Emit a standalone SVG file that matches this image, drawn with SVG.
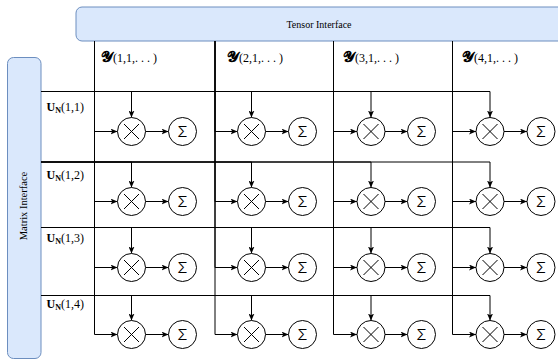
<svg xmlns="http://www.w3.org/2000/svg" width="558" height="362" viewBox="0 0 558 362">
<defs>
<style>
.iface{fill:#dae8fc;stroke:#6c8ebf;stroke-width:1}
.lbl{font-family:"Liberation Serif","Times New Roman",serif;fill:#000}
.conn{fill:none;stroke:#000;stroke-width:1;marker-end:url(#arr)}
.op{fill:#fff;stroke:#000;stroke-width:1}
.x{stroke:#000;stroke-width:1}
.sig{font-family:Inter,"Liberation Sans",Arial,sans-serif;font-weight:300;font-size:15px;text-anchor:middle;fill:#000}
.scr{font-family:"DejaVu Serif","DejaVu Sans","Noto Sans",serif;font-weight:bold;font-size:15px}
</style>
<marker id="arr" viewBox="0 0 7 6" refX="7" refY="3" markerWidth="7" markerHeight="6" markerUnits="userSpaceOnUse" orient="auto">
<path d="M0,0 L7,3 L0,6 L1.75,3 Z" fill="#000"/>
</marker>
<g id="mul-shape">
<circle class="op" cx="0" cy="0" r="14"/>
<line class="x" x1="-7.5" y1="-7.5" x2="7.5" y2="7.5"/>
<line class="x" x1="-7.5" y1="7.5" x2="7.5" y2="-7.5"/>
</g>
<g id="sum-shape">
<circle class="op" cx="0" cy="0" r="14"/>
<text class="sig" x="0" y="5.5">Σ</text>
</g>
</defs>
<rect width="558" height="362" fill="#fff"/>

<g id="tensor-interface">
<rect class="iface" x="76" y="7" width="490" height="34" rx="6"/>
<text class="lbl" x="319" y="28" font-size="10" text-anchor="middle">Tensor Interface</text>
</g>
<g id="matrix-interface">
<rect class="iface" x="7.5" y="57.5" width="33.5" height="301" rx="6"/>
<text class="lbl" transform="translate(27,206) rotate(-90)" font-size="10.5" text-anchor="middle">Matrix Interface</text>
</g>

<g id="col-labels" class="lbl">
<text x="101" y="62"><tspan class="scr">𝓨</tspan><tspan font-size="12">(1,1,. . . )</tspan></text>
<text x="227" y="62"><tspan class="scr">𝓨</tspan><tspan font-size="12">(2,1,. . . )</tspan></text>
<text x="343" y="62"><tspan class="scr">𝓨</tspan><tspan font-size="12">(3,1,. . . )</tspan></text>
<text x="462" y="62"><tspan class="scr">𝓨</tspan><tspan font-size="12">(4,1,. . . )</tspan></text>
</g>
<g id="row-labels" class="lbl" font-size="12">
<text x="46.5" y="110.5"><tspan font-weight="bold">U</tspan><tspan font-weight="bold" font-size="8" dy="2">N</tspan><tspan dy="-2">(1,1)</tspan></text>
<text x="46.5" y="179"><tspan font-weight="bold">U</tspan><tspan font-weight="bold" font-size="8" dy="2">N</tspan><tspan dy="-2">(1,2)</tspan></text>
<text x="46.5" y="241.5"><tspan font-weight="bold">U</tspan><tspan font-weight="bold" font-size="8" dy="2">N</tspan><tspan dy="-2">(1,3)</tspan></text>
<text x="46.5" y="307.5"><tspan font-weight="bold">U</tspan><tspan font-weight="bold" font-size="8" dy="2">N</tspan><tspan dy="-2">(1,4)</tspan></text>
</g>

<g id="connectors">
<path class="conn" d="M94.5,41 V131.5 H117.5"/>
<path class="conn" d="M94.5,41 V201.5 H117.5"/>
<path class="conn" d="M94.5,41 V267.5 H117.5"/>
<path class="conn" d="M94.5,41 V334.5 H117.5"/>
<path class="conn" d="M215,41 V131.5 H237.5"/>
<path class="conn" d="M215,41 V201.5 H237.5"/>
<path class="conn" d="M215,41 V267.5 H237.5"/>
<path class="conn" d="M215,41 V334.5 H237.5"/>
<path class="conn" d="M333.5,41 V131.5 H357"/>
<path class="conn" d="M333.5,41 V201.5 H357"/>
<path class="conn" d="M333.5,41 V267.5 H357"/>
<path class="conn" d="M333.5,41 V334.5 H357"/>
<path class="conn" d="M452.5,41 V131.5 H476"/>
<path class="conn" d="M452.5,41 V201.5 H476"/>
<path class="conn" d="M452.5,41 V267.5 H476"/>
<path class="conn" d="M452.5,41 V334.5 H476"/>
<path class="conn" d="M41,91.5 H131.5 V117.5"/>
<path class="conn" d="M41,91.5 H251.5 V117.5"/>
<path class="conn" d="M41,91.5 H371 V117.5"/>
<path class="conn" d="M41,91.5 H490 V117.5"/>
<path class="conn" d="M41,162 H131.5 V187.5"/>
<path class="conn" d="M41,162 H251.5 V187.5"/>
<path class="conn" d="M41,162 H371 V187.5"/>
<path class="conn" d="M41,162 H490 V187.5"/>
<path class="conn" d="M41,227.5 H131.5 V253.5"/>
<path class="conn" d="M41,227.5 H251.5 V253.5"/>
<path class="conn" d="M41,227.5 H371 V253.5"/>
<path class="conn" d="M41,227.5 H490 V253.5"/>
<path class="conn" d="M41,295.5 H131.5 V320.5"/>
<path class="conn" d="M41,295.5 H251.5 V320.5"/>
<path class="conn" d="M41,295.5 H371 V320.5"/>
<path class="conn" d="M41,295.5 H490 V320.5"/>
<path class="conn" d="M145.5,131.5 H168.5"/>
<path class="conn" d="M265.5,131.5 H288.5"/>
<path class="conn" d="M385,131.5 H407.5"/>
<path class="conn" d="M504,131.5 H527"/>
<path class="conn" d="M145.5,201.5 H168.5"/>
<path class="conn" d="M265.5,201.5 H288.5"/>
<path class="conn" d="M385,201.5 H407.5"/>
<path class="conn" d="M504,201.5 H527"/>
<path class="conn" d="M145.5,267.5 H168.5"/>
<path class="conn" d="M265.5,267.5 H288.5"/>
<path class="conn" d="M385,267.5 H407.5"/>
<path class="conn" d="M504,267.5 H527"/>
<path class="conn" d="M145.5,334.5 H168.5"/>
<path class="conn" d="M265.5,334.5 H288.5"/>
<path class="conn" d="M385,334.5 H407.5"/>
<path class="conn" d="M504,334.5 H527"/>
</g>

<g id="mul-1-1"><use href="#mul-shape" x="131.5" y="131.5"/></g>
<g id="mul-1-2"><use href="#mul-shape" x="251.5" y="131.5"/></g>
<g id="mul-1-3"><use href="#mul-shape" x="371" y="131.5"/></g>
<g id="mul-1-4"><use href="#mul-shape" x="490" y="131.5"/></g>
<g id="mul-2-1"><use href="#mul-shape" x="131.5" y="201.5"/></g>
<g id="mul-2-2"><use href="#mul-shape" x="251.5" y="201.5"/></g>
<g id="mul-2-3"><use href="#mul-shape" x="371" y="201.5"/></g>
<g id="mul-2-4"><use href="#mul-shape" x="490" y="201.5"/></g>
<g id="mul-3-1"><use href="#mul-shape" x="131.5" y="267.5"/></g>
<g id="mul-3-2"><use href="#mul-shape" x="251.5" y="267.5"/></g>
<g id="mul-3-3"><use href="#mul-shape" x="371" y="267.5"/></g>
<g id="mul-3-4"><use href="#mul-shape" x="490" y="267.5"/></g>
<g id="mul-4-1"><use href="#mul-shape" x="131.5" y="334.5"/></g>
<g id="mul-4-2"><use href="#mul-shape" x="251.5" y="334.5"/></g>
<g id="mul-4-3"><use href="#mul-shape" x="371" y="334.5"/></g>
<g id="mul-4-4"><use href="#mul-shape" x="490" y="334.5"/></g>

<g id="sum-1-1"><use href="#sum-shape" x="182.5" y="131.5"/></g>
<g id="sum-1-2"><use href="#sum-shape" x="302.5" y="131.5"/></g>
<g id="sum-1-3"><use href="#sum-shape" x="421.5" y="131.5"/></g>
<g id="sum-1-4"><use href="#sum-shape" x="541" y="131.5"/></g>
<g id="sum-2-1"><use href="#sum-shape" x="182.5" y="201.5"/></g>
<g id="sum-2-2"><use href="#sum-shape" x="302.5" y="201.5"/></g>
<g id="sum-2-3"><use href="#sum-shape" x="421.5" y="201.5"/></g>
<g id="sum-2-4"><use href="#sum-shape" x="541" y="201.5"/></g>
<g id="sum-3-1"><use href="#sum-shape" x="182.5" y="267.5"/></g>
<g id="sum-3-2"><use href="#sum-shape" x="302.5" y="267.5"/></g>
<g id="sum-3-3"><use href="#sum-shape" x="421.5" y="267.5"/></g>
<g id="sum-3-4"><use href="#sum-shape" x="541" y="267.5"/></g>
<g id="sum-4-1"><use href="#sum-shape" x="182.5" y="334.5"/></g>
<g id="sum-4-2"><use href="#sum-shape" x="302.5" y="334.5"/></g>
<g id="sum-4-3"><use href="#sum-shape" x="421.5" y="334.5"/></g>
<g id="sum-4-4"><use href="#sum-shape" x="541" y="334.5"/></g>
</svg>
